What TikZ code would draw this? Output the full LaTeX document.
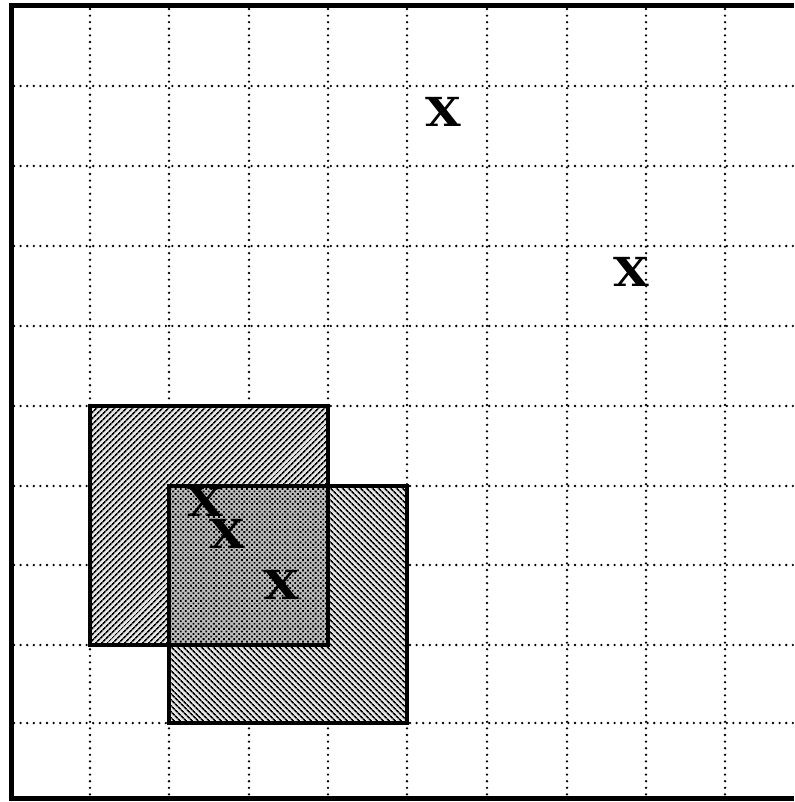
\documentclass[tikz,border=0pt]{standalone}
\usepackage{fontspec}
\newfontfamily\xfont{DejaVu Serif}
\usetikzlibrary{patterns.meta}
\begin{document}
\begin{tikzpicture}[x=1pt,y=-1pt,
  gridline/.style={line width=2.6pt,line cap=round,dash pattern=on 0pt off 6.6pt},
  frameline/.style={line width=5pt},
  boxline/.style={line width=3.2pt},
  xmark/.style={inner sep=0pt,xscale=1.15,font=\xfont\fontsize{40}{40}\selectfont\bfseries}]
\useasboundingbox (0,0) rectangle (794,802);
\fill[white] (0,0) rectangle (794,802);
% grid
\foreach \x in {90,169,249,328,407,487,567,646,725}
  \draw[gridline] (\x,9) -- (\x,796);
\foreach \y in {86,166,246,326,406,486,565,645,723}
  \draw[gridline] (14,\y) -- (794,\y);
% frame
\draw[frameline] (11,6) -- (11,798);
\draw[frameline] (8.5,6) -- (794,6);
\draw[frameline] (8.5,798) -- (794,798);
% shaded rectangles
\fill[gray!20] (90,406) rectangle (328,645);
\fill[pattern={Lines[angle=45,distance=4pt,line width=1.7pt]},pattern color=black] (90,406) rectangle (328,645);
\fill[gray!20] (169,486) rectangle (407,723);
\fill[pattern={Lines[angle=-45,distance=4pt,line width=1.7pt]},pattern color=black] (169,486) rectangle (407,723);
\fill[gray!50] (169,486) rectangle (328,645);
\fill[pattern={Dots[radius=1.3pt,distance=3.6pt,angle=45]},pattern color=black] (169,486) rectangle (328,645);
\draw[boxline] (90,406) rectangle (328,645);
\draw[boxline] (169,486) rectangle (407,723);
% marks
\node[xmark] (x1) at (443,112) {X};
\node[xmark] (x2) at (631,272) {X};
\node[xmark] (x3) at (205,502) {X};
\node[xmark] (x4) at (227,534) {X};
\node[xmark] (x5) at (281,585) {X};
\end{tikzpicture}
\end{document}
